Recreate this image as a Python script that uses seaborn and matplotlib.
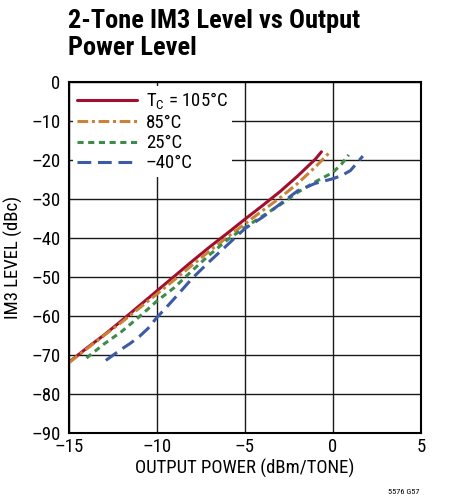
import matplotlib
matplotlib.use("Agg")
import matplotlib.pyplot as plt
import seaborn as sns

# IM3 level vs output power
x_105 = [-15, -14, -13, -12, -11, -10, -9, -8, -7, -6, -5, -4, -3, -2, -1, -0.65]
y_105 = [-71.9, -68.3, -64.9, -61.2, -57.4, -53.6, -49.8, -46.0, -42.3, -38.8,
         -35.2, -31.7, -28.1, -24.1, -19.8, -17.9]

x_85 = [-15, -14, -13, -12, -11, -10, -9, -8, -7, -6, -5, -4, -3, -2, -1, -0.2]
y_85 = [-72.0, -68.5, -65.0, -61.6, -58.0, -54.4, -50.7, -47.0, -43.3, -39.8,
        -36.4, -33.0, -29.7, -26.0, -21.8, -18.1]

x_25 = [-14, -13, -12, -11, -10, -9, -8, -7, -6, -5, -4, -3, -2, -1, 0, 0.5, 0.9]
y_25 = [-70.8, -67.2, -64.0, -60.2, -56.2, -52.7, -48.4, -44.3, -40.5, -37.3,
        -34.4, -31.5, -28.3, -25.6, -23.2, -21.0, -18.7]

x_m40 = [-12.9, -12, -11.5, -11, -10.5, -10, -9.5, -9, -8, -7, -6, -5, -4, -3,
         -2, -1, 0, 0.5, 1, 1.7]
y_m40 = [-71.4, -68.5, -67.0, -65.3, -63.2, -60.4, -58.0, -55.5, -50.4, -46.0,
         -41.8, -37.6, -34.7, -31.3, -27.9, -26.0, -24.8, -24.0, -22.7, -19.0]

labels = [r"T$_\mathregular{C}$ = 105°C", "85°C", "25°C", "\u201340°C"]
x_ticks = [-15, -10, -5, 0, 5]
x_ticklabels = ["\u201315", "\u201310", "\u20135", "0", "5"]
y_ticks = [0, -10, -20, -30, -40, -50, -60, -70, -80, -90]
y_ticklabels = ["0", "\u201310", "\u201320", "\u201330", "\u201340",
                "\u201350", "\u201360", "\u201370", "\u201380", "\u201390"]

sns.set_style("white")
plt.rcParams["font.family"] = ["Roboto Condensed", "Archivo Narrow", "DejaVu Sans"]
plt.rcParams["text.color"] = "black"
plt.rcParams["mathtext.fontset"] = "custom"
plt.rcParams["mathtext.rm"] = "Roboto Condensed"

fig = plt.figure(figsize=(4.59, 4.97), dpi=100)
ax = fig.add_axes([0.150, 0.129, 0.767, 0.706])

sns.lineplot(x=x_105, y=y_105, ax=ax, color="#a0102e", linewidth=2.2,
             label=labels[0], sort=False)
sns.lineplot(x=x_85, y=y_85, ax=ax, color="#c98237", linewidth=2.2,
             linestyle=(0, (3.5, 1.2, 1, 1.2)), label=labels[1], sort=False)
sns.lineplot(x=x_25, y=y_25, ax=ax, color="#3d8c4b", linewidth=2.2,
             linestyle=(0, (2, 1.5)), label=labels[2], sort=False)
sns.lineplot(x=x_m40, y=y_m40, ax=ax, color="#3c5aa6", linewidth=2.2,
             linestyle=(0, (4.5, 2.2)), label=labels[3], sort=False)

ax.set_xlim(-15, 5)
ax.set_ylim(-90, 0)
ax.set_xticks(x_ticks, x_ticklabels)
ax.set_yticks(y_ticks, y_ticklabels)
ax.grid(True, color="#1a1a1a", linewidth=1.0)
ax.set_axisbelow(True)
for s in ax.spines.values():
    s.set_color("black")
    s.set_linewidth(1.5)
ax.tick_params(length=0, labelsize=13.5, colors="black")
ax.tick_params(axis="y", pad=6)
ax.tick_params(axis="x", pad=4)
ax.set_xlabel("OUTPUT POWER (dBm/TONE)", fontsize=13.5, color="black", labelpad=2)
ax.set_ylabel("IM3 LEVEL (dBc)", fontsize=13.5, color="black", labelpad=6)

leg = ax.legend(loc="upper left", fontsize=13.5, frameon=True, fancybox=False,
                framealpha=1, edgecolor="none", facecolor="white",
                handlelength=3.2, handletextpad=0.45, labelspacing=0.12,
                borderaxespad=0.2, borderpad=0.25)

fig.text(0.148, 0.981, "2-Tone IM3 Level vs Output\nPower Level", fontsize=19,
         fontweight="bold", va="top", ha="left", linespacing=1.12,
         family=["Roboto Condensed", "Barlow Condensed", "DejaVu Sans"])
fig.text(0.915, 0.005, "5576 G57", fontsize=6, ha="right", va="bottom")

fig.savefig("out.png", dpi=100)
